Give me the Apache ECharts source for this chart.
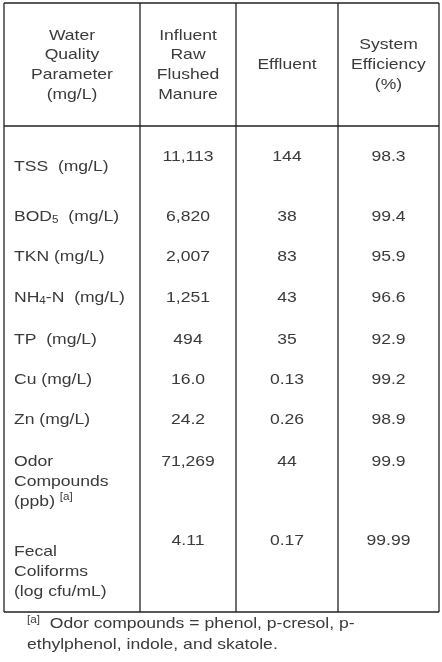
<!DOCTYPE html>
<html>
<head>
<meta charset="utf-8">
<script src="https://cdn.jsdelivr.net/npm/echarts@6/dist/echarts.min.js"></script>
<style>html,body{margin:0;padding:0;background:#fff}#main{width:442px;height:662px}</style>
</head>
<body>
<div id="main"></div>
<script>
var headers = [
  ['Water', 'Quality', 'Parameter', '(mg/L)'],
  ['Influent', 'Raw', 'Flushed', 'Manure'],
  ['Effluent'],
  ['System', 'Efficiency', '(%)']
]
var params = [
  ['TSS  (mg/L)'],
  ['BOD{sub|5}  (mg/L)'],
  ['TKN (mg/L)'],
  ['NH{sub|4}-N  (mg/L)'],
  ['TP  (mg/L)'],
  ['Cu (mg/L)'],
  ['Zn (mg/L)'],
  ['Odor', 'Compounds', '(ppb) {sup|[a]}'],
  ['Fecal', 'Coliforms', '(log cfu/mL)']
]
var influent = ['11,113', '6,820', '2,007', '1,251', '494', '16.0', '24.2', '71,269', '4.11']
var effluent = ['144', '38', '83', '43', '35', '0.13', '0.26', '44', '0.17']
var efficiency = ['98.3', '99.4', '95.9', '96.6', '92.9', '99.2', '98.9', '99.9', '99.99']
var footnote = ['{sup|[a]}  Odor compounds = phenol, p-cresol, p-', 'ethylphenol, indole, and skatole.']

// layout
var colX = [4, 140, 236, 338, 439]
var lineY = [3, 126, 612]
var valueY = [157, 217, 257, 298, 340, 380, 420, 462, 541]
var labelY = [167, 217, 257, 298, 340, 380, 420, 462, 552]
var lh = 19.7
var font = 'Liberation Sans, Arial, sans-serif'
var color = '#3a3a3a'
var rich = {
  sub: { fontSize: 10, fontFamily: font, fill: color, padding: [6, 0, 0, 0] },
  sup: { fontSize: 10, fontFamily: font, fill: color, padding: [0, 0, 8, 0] }
}

var els = []
function line(x1, y1, x2, y2) {
  els.push({ type: 'line', shape: { x1: x1, y1: y1, x2: x2, y2: y2 }, style: { stroke: '#222', lineWidth: 1.3 } })
}
function txt(t, x, y, align) {
  els.push({ type: 'text', x: x, y: y, scaleX: 1.17, style: { text: t, x: 0, y: 0, align: align, verticalAlign: 'middle', fontSize: 15, fontFamily: font, fill: color, rich: rich } })
}

lineY.forEach(function (y) { line(colX[0], y, colX[4], y) })
colX.forEach(function (x) { line(x, lineY[0], x, lineY[2]) })

headers.forEach(function (h, c) {
  var cx = (colX[c] + colX[c + 1]) / 2
  var y0 = 65 - (h.length - 1) * lh / 2
  h.forEach(function (s, i) { txt(s, cx, y0 + i * lh, 'center') })
})

params.forEach(function (p, r) {
  p.forEach(function (s, i) { txt(s, 14, labelY[r] + i * lh, 'left') })
  txt(influent[r], (colX[1] + colX[2]) / 2, valueY[r], 'center')
  txt(effluent[r], (colX[2] + colX[3]) / 2, valueY[r], 'center')
  txt(efficiency[r], (colX[3] + colX[4]) / 2, valueY[r], 'center')
})

txt(footnote[0], 27, 624, 'left')
txt(footnote[1], 27, 645, 'left')

var chart = echarts.init(document.getElementById('main'))
chart.setOption({ animation: false, graphic: { elements: els } })
</script>
</body>
</html>
